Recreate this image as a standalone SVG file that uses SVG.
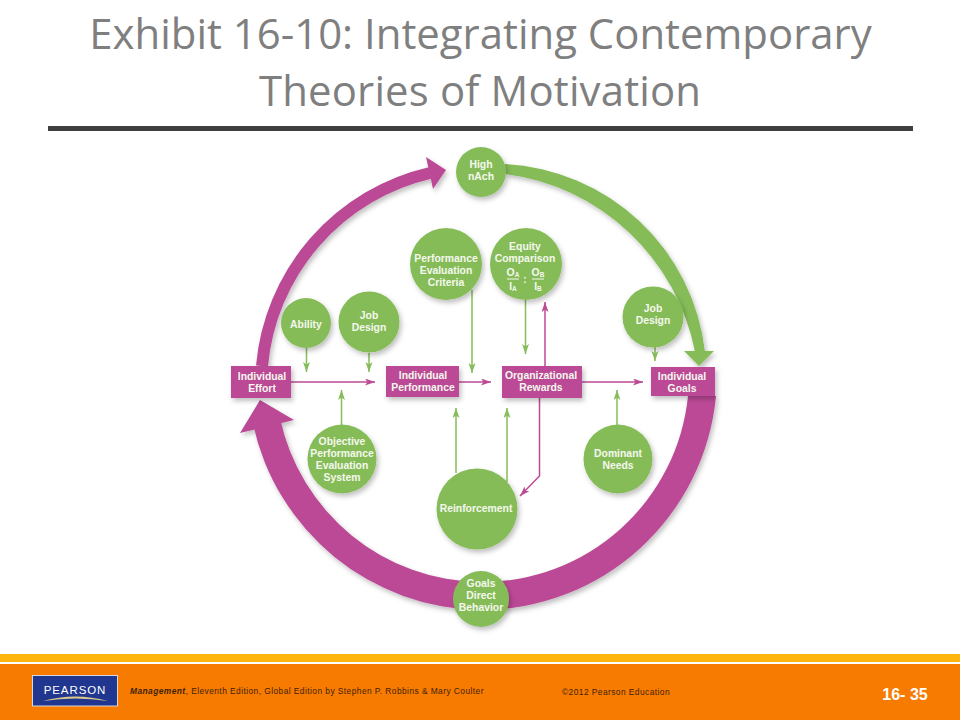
<svg xmlns="http://www.w3.org/2000/svg" width="960" height="720" viewBox="0 0 960 720">
<style>
.title{font-family:"Open Sans","Noto Sans",sans-serif;font-size:41.900px;fill:#7f7f7f;text-anchor:middle}
.n{fill:#86bc59;filter:url(#sh)}
.r{fill:#bc4a96;filter:url(#sh)}
.t{font-family:"Liberation Sans",Arial,sans-serif;font-size:10.400px;font-weight:bold;fill:#f4f8ee;text-anchor:middle}
.g{fill:none;stroke:#86bc59;stroke-width:1.5;marker-end:url(#ag)}
.m{fill:none;stroke:#bc4a96;stroke-width:1.5;marker-end:url(#am)}
.f{font-family:"Liberation Sans",Arial,sans-serif;font-size:8.400px;letter-spacing:.44px;fill:#3f2206}
</style>
<defs>
<filter id="sh" x="-30%" y="-30%" width="170%" height="170%"><feDropShadow dx="2" dy="3" stdDeviation="2.500" flood-color="#000" flood-opacity=".25"/></filter>
<marker id="ag" markerUnits="userSpaceOnUse" markerWidth="11" markerHeight="8" refX="10" refY="3.500" orient="auto"><path d="M0 0L10 3.500L0 7L2.500 3.500Z" fill="#86bc59"/></marker>
<marker id="am" markerUnits="userSpaceOnUse" markerWidth="11" markerHeight="8" refX="10" refY="3.500" orient="auto"><path d="M0 0L10 3.500L0 7L2.500 3.500Z" fill="#bc4a96"/></marker>
</defs>
<rect width="960" height="720" fill="#fff"/>
<text class="title" x="480.500" y="49">Exhibit 16-10: Integrating Contemporary</text>
<text class="title" x="480" y="106" textLength="442">Theories of Motivation</text>
<rect x="48" y="126" width="865" height="5" fill="#404040"/>

<g id="connectors">
<g filter="url(#sh)">
<path d="M262 366A218 218 0 0 1 430 173" fill="none" stroke="#bc4a96" stroke-width="12"/>
<path d="M446 170L426 157L433 189Z" fill="#bc4a96"/>
<path d="M505 164A212 212 0 0 1 705 352H695A222 222 0 0 0 505 174Z" fill="#86bc59"/>
<path d="M699 366L684 351H714Z" fill="#86bc59"/>
<path d="M716 396A236 236 0 0 1 481 610A236 236 0 0 1 253 424L280 418A207 207 0 0 0 481 582A207 207 0 0 0 688 396Z" fill="#bc4a96"/>
<path d="M260 400L240 433L294 420Z" fill="#bc4a96"/>
</g>
<path class="m" d="M291 382H375"/>
<path class="m" d="M459 382H491"/>
<path class="m" d="M582 382H643"/>
<path class="g" d="M306.500 348V372"/>
<path class="g" d="M369 353V372"/>
<path class="g" d="M472 290V373"/>
<path class="g" d="M525.500 300V354"/>
<path class="m" d="M545 366V302"/>
<path class="g" d="M655 347V361"/>
<path class="g" d="M341.500 425V390"/>
<path class="g" d="M456 473V408"/>
<path class="g" d="M507 482V408"/>
<path class="g" d="M617 425V390"/>
<path class="m" d="M539.500 398V476L520 496"/>
</g>

<g id="high-nach"><circle class="n" cx="481" cy="172" r="25"/><text class="t" x="481" y="168">High</text><text class="t" x="481" y="180">nAch</text></g>
<g id="perf-eval"><circle class="n" cx="446" cy="264" r="36"/><text class="t" x="446" y="262">Performance</text><text class="t" x="446" y="274">Evaluation</text><text class="t" x="446" y="286">Criteria</text></g>
<g id="equity"><circle class="n" cx="526" cy="264" r="36"/><text class="t" x="525" y="250">Equity</text><text class="t" x="525" y="262">Comparison</text>
<text class="t" x="513" y="275.500">O<tspan font-size="6.500" dy="1">A</tspan></text><text class="t" x="513" y="290">I<tspan font-size="6.500" dy="1">A</tspan></text>
<text class="t" x="525" y="283">:</text>
<text class="t" x="538" y="275.500">O<tspan font-size="6.500" dy="1">B</tspan></text><text class="t" x="538" y="290">I<tspan font-size="6.500" dy="1">B</tspan></text>
<path d="M507 279H519M532 279H544" stroke="#f4f8ee" stroke-width="1"/></g>
<g id="ability"><circle class="n" cx="306" cy="323" r="25"/><text class="t" x="306" y="328">Ability</text></g>
<g id="job-design-1"><circle class="n" cx="369" cy="322" r="30.500"/><text class="t" x="369" y="319">Job</text><text class="t" x="369" y="331">Design</text></g>
<g id="job-design-2"><circle class="n" cx="653" cy="317" r="30.500"/><text class="t" x="653" y="312">Job</text><text class="t" x="653" y="324">Design</text></g>
<g id="objective"><circle class="n" cx="342" cy="459" r="34.500"/><text class="t" x="342" y="445">Objective</text><text class="t" x="342" y="457">Performance</text><text class="t" x="342" y="469">Evaluation</text><text class="t" x="342" y="481">System</text></g>
<g id="reinforcement"><circle class="n" cx="477" cy="509" r="40.500"/><text class="t" x="476" y="512">Reinforcement</text></g>
<g id="dominant"><circle class="n" cx="618" cy="459" r="34.500"/><text class="t" x="618" y="457">Dominant</text><text class="t" x="618" y="469">Needs</text></g>
<g id="goals-direct"><circle class="n" cx="481" cy="599" r="28"/><text class="t" x="481" y="587">Goals</text><text class="t" x="481" y="599">Direct</text><text class="t" x="481" y="611">Behavior</text></g>

<g id="effort"><rect class="r" x="231" y="366" width="60" height="32"/><text class="t" x="262" y="380">Individual</text><text class="t" x="262" y="392">Effort</text></g>
<g id="performance"><rect class="r" x="386" y="366" width="73" height="31"/><text class="t" x="423" y="379">Individual</text><text class="t" x="423" y="391">Performance</text></g>
<g id="rewards"><rect class="r" x="502" y="366" width="80" height="32"/><text class="t" x="541" y="379">Organizational</text><text class="t" x="541" y="391">Rewards</text></g>
<g id="goals"><rect class="r" x="651" y="367" width="64" height="29"/><text class="t" x="682" y="380">Individual</text><text class="t" x="682" y="392">Goals</text></g>

<rect x="0" y="654" width="960" height="8" fill="#ffb50d"/>
<rect x="0" y="664" width="960" height="56" fill="#f77b00"/>
<rect x="32.500" y="675.500" width="85" height="30.500" fill="#21368f" stroke="#d8d8e0"/>
<text x="75" y="694" font-family="'Liberation Sans',Arial,sans-serif" font-size="11.500" letter-spacing=".9" fill="#fff" text-anchor="middle">PEARSON</text>
<path d="M43 701Q75 692 108 701Q75 696 43 701Z" fill="#d9c98a"/>
<text class="f" x="130" y="694"><tspan font-style="italic" font-weight="bold">Management</tspan>, Eleventh Edition, Global Edition by Stephen P. Robbins &amp; Mary Coulter</text>
<text class="f" x="562" y="695">©2012 Pearson Education</text>
<text x="905" y="700" font-family="'Liberation Sans',Arial,sans-serif" font-size="16" font-weight="bold" fill="#fff" text-anchor="middle">16- 35</text>
</svg>
